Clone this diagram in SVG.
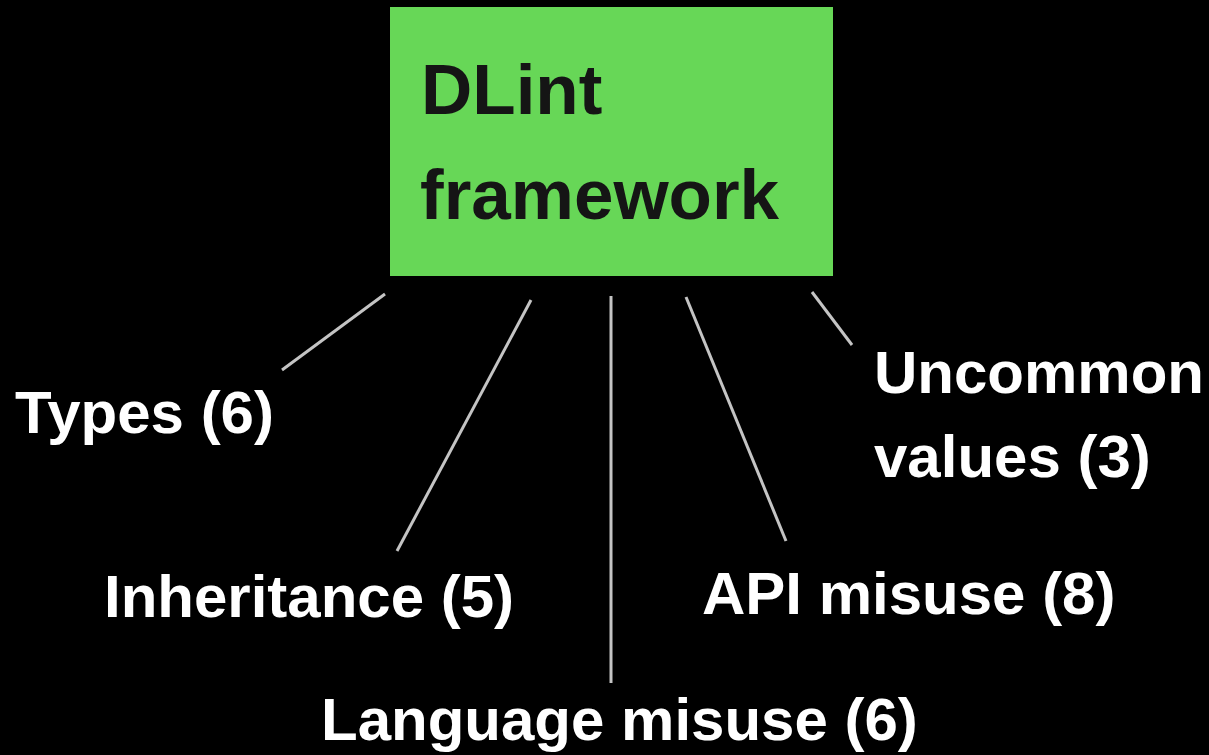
<svg xmlns="http://www.w3.org/2000/svg" width="1209" height="755" viewBox="0 0 1209 755">
  <style>
    .lbl { font-family: "Liberation Sans", Arial, sans-serif; font-weight: bold; font-size: 60px; fill: #ffffff; }
    .title { font-family: "Liberation Sans", Arial, sans-serif; font-weight: bold; font-size: 71px; fill: #151515; }
    .conn { stroke: #c4c4c4; stroke-width: 3; fill: none; }
  </style>
  <rect x="0" y="0" width="1209" height="755" fill="#000000"/>
  <g id="connectors">
    <line class="conn" x1="385" y1="294" x2="282" y2="370"/>
    <line class="conn" x1="531" y1="300" x2="397" y2="551"/>
    <line class="conn" x1="611" y1="296" x2="611" y2="683"/>
    <line class="conn" x1="686" y1="297" x2="786" y2="541"/>
    <line class="conn" x1="812" y1="292" x2="852" y2="345"/>
  </g>
  <g id="dlint">
    <rect x="390" y="7" width="443" height="269" fill="#67d757"/>
    <text class="title" x="421" y="114">DLint</text>
    <text class="title" x="420" y="219">framework</text>
  </g>
  <g id="types">
    <text class="lbl" x="15" y="433">Types (6)</text>
  </g>
  <g id="inheritance">
    <text class="lbl" x="104" y="617">Inheritance (5)</text>
  </g>
  <g id="language">
    <text class="lbl" x="321" y="740">Language misuse (6)</text>
  </g>
  <g id="api">
    <text class="lbl" x="702" y="614">API misuse (8)</text>
  </g>
  <g id="uncommon">
    <text class="lbl" x="874" y="393">Uncommon</text>
    <text class="lbl" x="874" y="477">values (3)</text>
  </g>
</svg>
